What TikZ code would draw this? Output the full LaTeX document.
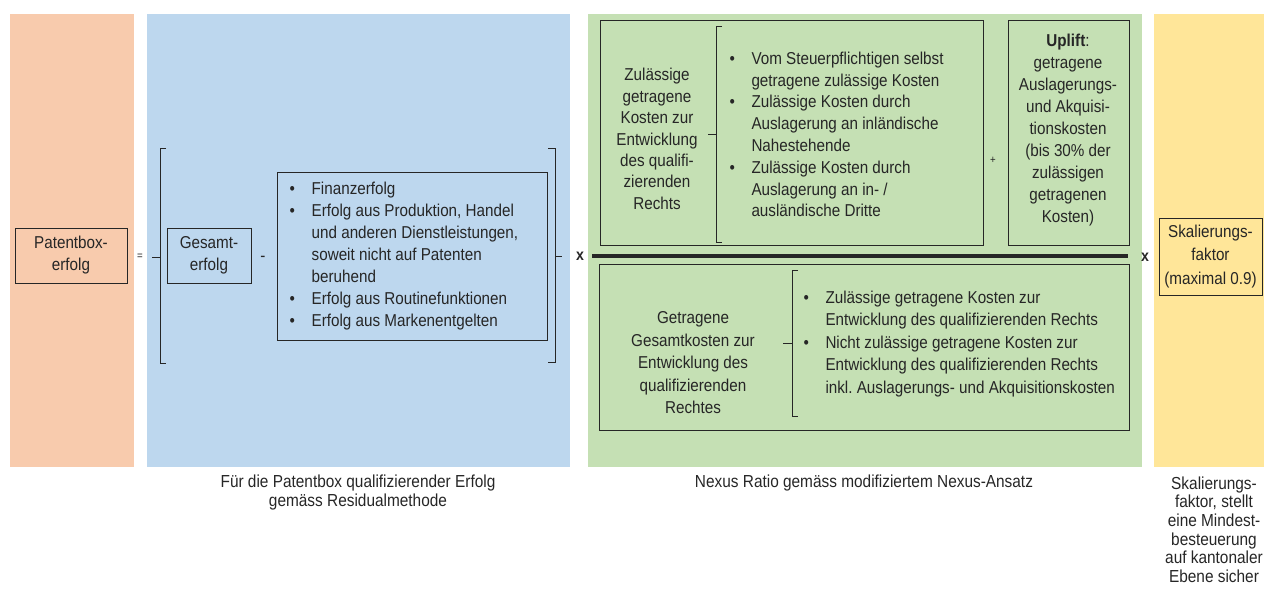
\documentclass[tikz,border=0pt]{standalone}
\usepackage{fontspec}
\setmainfont{Liberation Sans}[FakeStretch=0.885]
\definecolor{cOrange}{HTML}{F8CBAD}
\definecolor{cBlue}{HTML}{BDD7EE}
\definecolor{cGreen}{HTML}{C5E0B4}
\definecolor{cYellow}{HTML}{FFE699}
\definecolor{cLine}{HTML}{262626}
\newcommand{\bulx}{\makebox[22pt][l]{\textbullet}}
\newcommand{\indx}{\hspace*{22pt}}
\frenchspacing
\begin{document}
\begin{tikzpicture}[x=1pt,y=-1pt,
  every node/.style={font=\fontsize{17.2}{22}\selectfont, inner sep=0pt, text=cLine},
  box/.style={draw=cLine, line width=0.9pt},
  brk/.style={draw=cLine, line width=1pt},
  op/.style={font=\fontsize{11}{13}\selectfont},
  opx/.style={font=\fontsize{16}{18}\selectfont\bfseries},
  captxt/.style={font=\fontsize{17.4}{19}\selectfont, align=center}]
\useasboundingbox (0,0) rectangle (1264,602);
% panels
\fill[cOrange] (10,14) rectangle (134,467);
\fill[cBlue] (147,14) rectangle (570,467);
\fill[cGreen] (588,14) rectangle (1142,467);
\fill[cYellow] (1154,14) rectangle (1264,467);

% left part
\node[box, minimum width=112, minimum height=55, align=center] (pb) at (71,255.5) {Patentbox-\\erfolg};
\node[op] (eq) at (140,257) {=};
\draw[brk] (166,148) -- (160,148) -- (160,363) -- (166,363);
\draw[brk] (152,257) -- (160,257);
\node[box, minimum width=84, minimum height=55, align=center] (ge) at (209,255.5) {Gesamt-\\erfolg};
\node (minus) at (263,259) {-};
\node[box, minimum width=270, minimum height=168] (bb) at (412,256) {};
\node[anchor=west, align=left] (bl) at (289.5,256) {\bulx Finanzerfolg\\
\bulx Erfolg aus Produktion, Handel\\
\indx und anderen Dienstleistungen,\\
\indx soweit nicht auf Patenten\\
\indx beruhend\\
\bulx Erfolg aus Routinefunktionen\\
\bulx Erfolg aus Markenentgelten};
\draw[brk] (548,148) -- (555,148) -- (555,362) -- (548,362);
\draw[brk] (555,256) -- (562,256);
\node[opx] (x1) at (580,256) {x};

% green top
\node[box, minimum width=383, minimum height=225] (zb) at (791.5,132.5) {};
\node[align=center, font=\fontsize{17.2}{21.4}\selectfont] (zt) at (657,139) {Zulässige\\getragene\\Kosten zur\\Entwicklung\\des qualifi-\\zierenden\\Rechts};
\draw[brk] (722,27) -- (716,27) -- (716,242) -- (722,242);
\draw[brk] (708,134) -- (716,134);
\node[anchor=west, align=left, font=\fontsize{17.2}{21.8}\selectfont] (zl) at (729.3,134.5) {\bulx Vom Steuerpflichtigen selbst\\
\indx getragene zulässige Kosten\\
\bulx Zulässige Kosten durch\\
\indx Auslagerung an inländische\\
\indx Nahestehende\\
\bulx Zulässige Kosten durch\\
\indx Auslagerung an in- /\\
\indx ausländische Dritte};
\node[op] (plus) at (993,160) {+};
\node[box, minimum width=121, minimum height=225] (ub) at (1068.5,132.5) {};
\node[align=center] (ut) at (1068,130) {\textbf{Uplift}:\\getragene\\Auslagerungs-\\und Akquisi-\\tionskosten\\(bis 30\% der\\zulässigen\\getragenen\\Kosten)};

% fraction line
\coordinate (fl) at (592,256);
\coordinate (fr) at (1128,256);
\draw[line width=4pt, cLine] (fl) -- (fr);
\node[opx] (x2) at (1145,257) {x};

% green bottom
\node[box, minimum width=530, minimum height=166] (gb) at (864,347) {};
\node[align=center, font=\fontsize{17.2}{22.5}\selectfont] (gt) at (693,363) {Getragene\\Gesamtkosten zur\\Entwicklung des\\qualifizierenden\\Rechtes};
\draw[brk] (798,270) -- (792,270) -- (792,416) -- (798,416);
\draw[brk] (783,343) -- (792,343);
\node[anchor=west, align=left, font=\fontsize{17.2}{22.5}\selectfont] (gl) at (803.3,344) {\bulx Zulässige getragene Kosten zur\\
\indx Entwicklung des qualifizierenden Rechts\\
\bulx Nicht zulässige getragene Kosten zur\\
\indx Entwicklung des qualifizierenden Rechts\\
\indx inkl. Auslagerungs- und Akquisitionskosten};

% yellow
\node[box, minimum width=103, minimum height=77, align=center, font=\fontsize{17.2}{23.5}\selectfont] (sk) at (1210.5,256.5) {Skalierungs-\\faktor\\(maximal 0.9)};

% captions
\node[captxt] (c1) at (358,492.5) {Für die Patentbox qualifizierender Erfolg\\gemäss Residualmethode};
\node[captxt] (c2) at (864,483) {Nexus Ratio gemäss modifiziertem Nexus-Ansatz};
\node[captxt, font=\fontsize{17.4}{18.6}\selectfont] (c3) at (1214,529.5) {Skalierungs-\\faktor, stellt\\eine Mindest-\\besteuerung\\auf kantonaler\\Ebene sicher};
\end{tikzpicture}
\end{document}
